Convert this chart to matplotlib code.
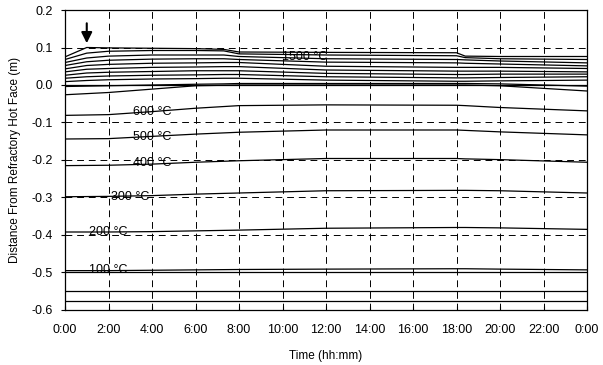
import matplotlib
matplotlib.use("Agg")
import matplotlib.pyplot as plt
import numpy as np

plt.rcParams['font.family'] = ['Liberation Sans', 'DejaVu Sans']

# time (hours) knots for the isotherms in the hot zone
t_hot = [0, 1, 2, 4, 6, 7.3, 8, 12, 18, 18.4, 20, 24]
iso_1500 = [0.075, 0.100, 0.099, 0.098, 0.097, 0.095, 0.088, 0.087, 0.086, 0.077, 0.076, 0.076]
iso_1400 = [0.068, 0.085, 0.090, 0.092, 0.092, 0.091, 0.083, 0.080, 0.078, 0.073, 0.070, 0.068]
iso_1300 = [0.060, 0.072, 0.077, 0.080, 0.080, 0.080, 0.076, 0.070, 0.068, 0.067, 0.064, 0.059]
iso_1200 = [0.052, 0.062, 0.066, 0.069, 0.070, 0.070, 0.068, 0.061, 0.059, 0.058, 0.056, 0.051]
iso_1100 = [0.043, 0.052, 0.055, 0.058, 0.059, 0.060, 0.060, 0.050, 0.047, 0.047, 0.047, 0.044]
iso_1000 = [0.035, 0.042, 0.044, 0.047, 0.048, 0.049, 0.049, 0.040, 0.037, 0.037, 0.037, 0.035]
iso_900 = [0.026, 0.032, 0.034, 0.036, 0.038, 0.038, 0.038, 0.031, 0.028, 0.028, 0.029, 0.029]
iso_800 = [0.018, 0.022, 0.024, 0.026, 0.027, 0.028, 0.028, 0.022, 0.019, 0.019, 0.020, 0.022]
iso_750 = [0.009, 0.012, 0.014, 0.016, 0.017, 0.018, 0.018, 0.013, 0.010, 0.010, 0.011, 0.013]
iso_720 = [-0.004, -0.003, -0.002, 0.000, 0.002, 0.003, 0.004, 0.004, 0.004, 0.004, 0.003, -0.003]

# time knots for the cooler isotherms
t_cold = [0, 2, 4, 6, 8, 12, 18, 18.4, 20, 24]
iso_700 = [-0.026, -0.020, -0.011, -0.002, 0.000, 0.000, 0.000, 0.000, -0.002, -0.016]
iso_600 = [-0.081, -0.079, -0.071, -0.062, -0.055, -0.053, -0.054, -0.055, -0.060, -0.069]
iso_500 = [-0.144, -0.143, -0.137, -0.131, -0.126, -0.120, -0.120, -0.121, -0.125, -0.133]
iso_400 = [-0.215, -0.214, -0.211, -0.206, -0.202, -0.196, -0.196, -0.197, -0.199, -0.206]
iso_300 = [-0.298, -0.297, -0.295, -0.291, -0.288, -0.282, -0.281, -0.281, -0.282, -0.288]
iso_200 = [-0.392, -0.392, -0.391, -0.389, -0.387, -0.382, -0.380, -0.380, -0.381, -0.385]
iso_100 = [-0.495, -0.495, -0.494, -0.493, -0.492, -0.491, -0.490, -0.490, -0.491, -0.493]

# constant boundaries (hot face, refractory/shell interfaces)
boundaries = [0.0, -0.5, -0.55, -0.575]

labels = ["1500 °C", "600 °C", "500 °C", "400 °C", "300 °C", "200 °C", "100 °C"]
label_t = [11.0, 4.0, 4.0, 4.0, 3.0, 2.0, 2.0]
label_y = [0.075, -0.072, -0.138, -0.207, -0.298, -0.392, -0.494]

x_ticks = list(range(0, 25, 2))
x_ticklabels = ["0:00", "2:00", "4:00", "6:00", "8:00", "10:00", "12:00", "14:00",
                "16:00", "18:00", "20:00", "22:00", "0:00"]
y_ticks = [-0.6, -0.5, -0.4, -0.3, -0.2, -0.1, 0.0, 0.1, 0.2]

fig = plt.figure(figsize=(6.03, 3.65), dpi=100)
ax = fig.add_axes([0.1078, 0.1507, 0.8657, 0.8219])

lw = 0.9
for y in [iso_1500, iso_1400, iso_1300, iso_1200, iso_1100, iso_1000, iso_900,
          iso_800, iso_750, iso_720]:
    ax.plot(t_hot, y, color='black', lw=lw)
for y in [iso_700, iso_600, iso_500, iso_400, iso_300, iso_200, iso_100]:
    ax.plot(t_cold, y, color='black', lw=lw)
for b in boundaries:
    ax.plot([0, 24], [b, b], color='black', lw=lw)

for s, tx, ty in zip(labels, label_t, label_y):
    ax.text(tx, ty, s, fontsize=9, ha='center', va='center', color='black')

ax.annotate('', xy=(1.0, 0.104), xytext=(1.0, 0.172),
            arrowprops=dict(arrowstyle='-|>', color='black', lw=1.5, mutation_scale=16))

ax.set_xlim(0, 24)
ax.set_ylim(-0.6, 0.2)
ax.set_xticks(x_ticks)
ax.set_xticklabels(x_ticklabels)
ax.set_yticks(y_ticks)
ax.set_yticklabels([f"{v:.1f}" for v in y_ticks])
ax.grid(True, color='black', linestyle=(0, (7, 5)), linewidth=0.7)
ax.tick_params(axis='both', labelsize=9, length=3, width=0.8)
ax.tick_params(axis='x', direction='in', pad=10)
ax.tick_params(axis='y', direction='out', pad=6)
for sp in ax.spines.values():
    sp.set_linewidth(0.9)

ax.set_xlabel("Time (hh:mm)", fontsize=8.5, labelpad=10)
ax.set_ylabel("Distance From Refractory Hot Face (m)", fontsize=8.5, labelpad=7)

fig.savefig("out.png", dpi=100)
